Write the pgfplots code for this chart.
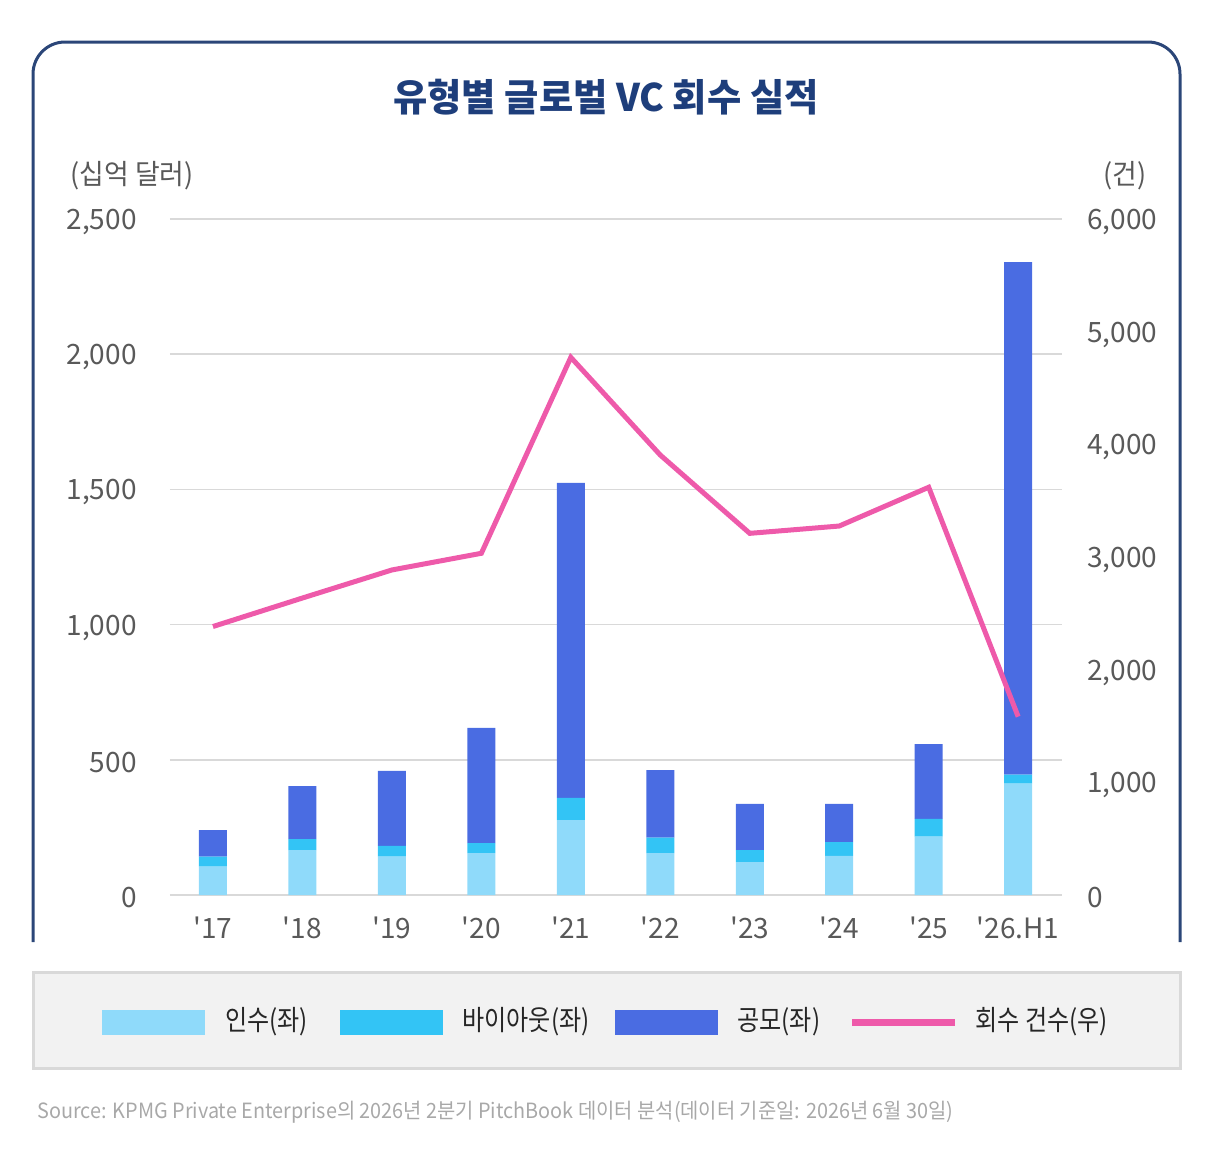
\documentclass[border=0pt]{standalone}
\usepackage{fontspec}
\usepackage{graphicx}
\usepackage{pgfplots}
\pgfplotsset{compat=1.18}
\usepackage{pgfplotstable}
\setmainfont{Noto Sans CJK KR}

\definecolor{acqcol}{HTML}{8FDAFA}
\definecolor{buycol}{HTML}{33C4F5}
\definecolor{ipocol}{HTML}{4A6CE2}
\definecolor{linecol}{HTML}{EE5AAA}
\definecolor{framecol}{HTML}{2B4678}
\definecolor{titlecol}{HTML}{1E3E7B}
\definecolor{gridcol}{HTML}{D9D9D9}
\definecolor{tickcol}{HTML}{595959}
\definecolor{srccol}{HTML}{A8A8A8}
\definecolor{legfill}{HTML}{F2F2F2}

% 0=2017 ... 9=2026.H1, values in billion USD
\pgfplotstableread{
x acq buy ipo
0 105 37 98
1 166 41 196
2 142 40 277
3 155 37 426
4 277 82 1165
5 155 57 250
6 122 44 171
7 145 51 141
8 216 66 276
9 412 33 1896
}\exitvalue

\pgfplotstableread{
x cnt
0 2383
1 2636
2 2885
3 3033
4 4772
5 3905
6 3210
7 3275
8 3619
9 1583
}\exitcount

\newcommand{\condensed}[2][0.84]{\scalebox{#1}[1]{#2}}

\begin{document}
\begin{tikzpicture}
% decorations in pixel units of the reference (1px = 0.5pt, y downwards)
\begin{scope}[x=0.5pt,y=-0.5pt]
  \path[use as bounding box] (0,0) rectangle (1212,1168);
  \draw[framecol, line width=1.5pt, rounded corners=16pt]
    (33,942) -- (33,42) -- (1180,42) -- (1180,942);
  \node[text=titlecol, font=\fontsize{19}{22}\selectfont\bfseries]
    at (606,97) {\condensed[0.98]{유형별 글로벌 VC 회수 실적}};
  \node[text=tickcol, font=\fontsize{14}{16}\selectfont]
    at (132,176) {\condensed[0.96]{(십억 달러)}};
  \node[text=tickcol, font=\fontsize{14}{16}\selectfont]
    at (1125,176) {\condensed[0.96]{(건)}};
  % legend box
  \draw[gridcol, fill=legfill, line width=1.5pt] (33,972) rectangle (1180,1068);
  \fill[acqcol] (102,1010) rectangle (205,1035);
  \fill[buycol] (340,1010) rectangle (443,1035);
  \fill[ipocol] (615,1010) rectangle (718,1035);
  \draw[linecol, line width=3.5pt] (852,1022) -- (955,1022);
  \begin{scope}[every node/.style={anchor=west, inner sep=0pt, text=black!85,
      font=\fontsize{14}{16}\selectfont}]
    \node at (225,1022) {\condensed[0.86]{인수(좌)}};
    \node at (462,1022) {\condensed[0.86]{바이아웃(좌)}};
    \node at (737,1022) {\condensed[0.86]{공모(좌)}};
    \node at (975,1022) {\condensed[0.86]{회수 건수(우)}};
  \end{scope}
  \node[anchor=west, inner sep=0pt, text=srccol, font=\fontsize{10.5}{12}\selectfont]
    at (37,1112) {\condensed[0.945]{Source: KPMG Private Enterprise의 2026년 2분기 PitchBook 데이터 분석(데이터 기준일: 2026년 6월 30일)}};
\end{scope}

\pgfplotsset{
  chartbase/.style={
    at={(85pt,-447.5pt)}, anchor=south west,
    scale only axis, width=446pt, height=338pt,
    xmin=-0.48, xmax=9.49, ymin=0,
    axis line style={draw=none}, major tick length=0pt,
    tick label style={font=\fontsize{14}{16}\selectfont, text=tickcol},
    /pgf/number format/assume math mode=true,
    /pgf/number format/1000 sep={,},
    clip=false,
  },
}

\begin{axis}[chartbase,
    ymax=2500, ytick={0,500,...,2500},
    ymajorgrids, grid style={gridcol, line width=0.75pt},
    ybar stacked, bar width=14pt,
    xtick={0,...,9},
    xticklabels={\textquotesingle17,\textquotesingle18,\textquotesingle19,\textquotesingle20,\textquotesingle21,\textquotesingle22,\textquotesingle23,\textquotesingle24,\textquotesingle25,\textquotesingle26.H1},
    xticklabel style={inner sep=0pt, yshift=-11pt},
    yticklabel style={inner sep=0pt, xshift=-16.5pt, yshift=-1.5pt},
  ]
  \addplot[fill=acqcol, draw=none] table[x=x, y=acq] {\exitvalue};
  \addplot[fill=buycol, draw=none] table[x=x, y=buy] {\exitvalue};
  \addplot[fill=ipocol, draw=none] table[x=x, y=ipo] {\exitvalue};
\end{axis}

\begin{axis}[chartbase,
    ymax=6000, ytick={0,1000,...,6000},
    axis x line=none, axis y line*=right,
    yticklabel style={inner sep=0pt, xshift=12.5pt, yshift=-1.5pt},
  ]
  \addplot[linecol, line width=2.5pt, mark=none] table[x=x, y=cnt] {\exitcount};
\end{axis}
\end{tikzpicture}
\end{document}
